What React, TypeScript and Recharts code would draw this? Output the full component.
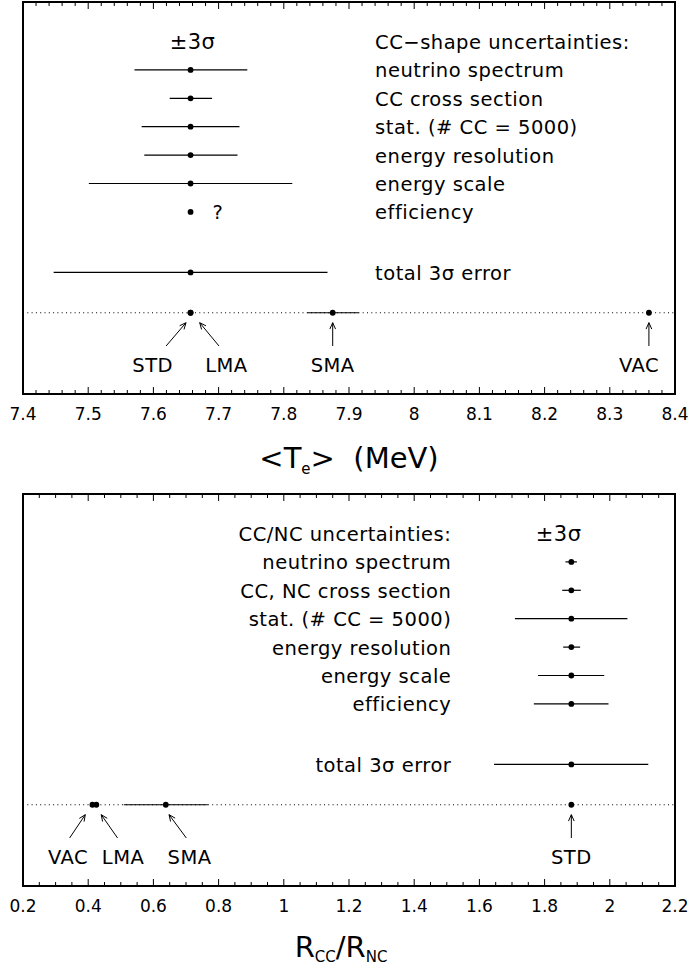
import React from "react";
import { ScatterChart, Scatter, XAxis, YAxis, ErrorBar, ReferenceLine, Label } from "recharts";

const FONT = "'DejaVu Sans', sans-serif";

// upper panel: <T_e> (MeV)
const TOP_ROWS = ["neutrino spectrum", "CC cross section", "stat. (# CC = 5000)", "energy resolution", "energy scale", "efficiency"];
const TOP_MEAN = 7.657;
const TOP_LOW = [7.571, 7.625, 7.582, 7.586, 7.501, 7.657];
const TOP_HIGH = [7.744, 7.690, 7.732, 7.729, 7.813, 7.657];
const TOP_TOTAL = [7.447, 7.867];
const TOP_MODELS = ["STD", "LMA", "SMA", "VAC"];
const TOP_MODEL_X = [7.657, 7.657, 7.875, 8.360];
const TOP_MODEL_LOW = [7.657, 7.657, 7.836, 8.360];
const TOP_MODEL_HIGH = [7.657, 7.657, 7.915, 8.360];
const TOP_MAJORS = [7.4, 7.5, 7.6, 7.7, 7.8, 7.9, 8, 8.1, 8.2, 8.3, 8.4];

// lower panel: R_CC / R_NC
const BOT_ROWS = ["neutrino spectrum", "CC, NC cross section", "stat. (# CC = 5000)", "energy resolution", "energy scale", "efficiency"];
const BOT_MEAN = 1.882;
const BOT_LOW = [1.864, 1.854, 1.709, 1.857, 1.780, 1.767];
const BOT_HIGH = [1.899, 1.911, 2.054, 1.909, 1.983, 1.996];
const BOT_TOTAL = [1.645, 2.118];
const BOT_MODELS = ["VAC", "LMA", "SMA", "STD"];
const BOT_MODEL_X = [0.413, 0.425, 0.638, 1.882];
const BOT_MODEL_LOW = [0.413, 0.425, 0.509, 1.882];
const BOT_MODEL_HIGH = [0.413, 0.425, 0.767, 1.882];
const BOT_MAJORS = [0.2, 0.4, 0.6, 0.8, 1, 1.2, 1.4, 1.6, 1.8, 2, 2.2];

// where the model labels / arrows sit (x in data units)
const TOP_ANNOT = [
  { labelX: 7.599, from: 7.6195, to: 7.650 },
  { labelX: 7.712, from: 7.7006, to: 7.671 },
  { labelX: 7.875, from: 7.875, to: 7.875 },
  { labelX: 8.345, from: 8.360, to: 8.360 },
];
const BOT_ANNOT = [
  { labelX: 0.338, from: 0.343, to: 0.391 },
  { labelX: 0.507, from: 0.490, to: 0.440 },
  { labelX: 0.711, from: 0.701, to: 0.648 },
  { labelX: 1.882, from: 1.882, to: 1.882 },
];

// row layout (y axis is a hidden row index)
const Y_DOMAIN = [-1.39, 12.41];
const TOTAL_ROW = 8.13;
const MODEL_ROW = 9.55;
const ARROW_TIP = 9.9;
const ARROW_TAIL = 10.72;
const LABEL_ROW = 11.36;
const MAJOR_PX = 7; // tick lengths
const MINOR_PX = 4;

const round = (v: number) => Number(v.toFixed(3));

function allTicks(lo: number, hi: number, step: number) {
  const out: number[] = [];
  const n = Math.round((hi - lo) / step);
  for (let i = 0; i <= n; i++) out.push(round(lo + i * step));
  return out;
}

function buildPoints(mean: number, low: number[], high: number[], total: number[], mx: number[], mlo: number[], mhi: number[]) {
  const pts = low.map((l, i) => ({ x: mean, y: i + 1, err: [mean - l, high[i] - mean] }));
  pts.push({ x: mean, y: TOTAL_ROW, err: [mean - total[0], total[1] - mean] });
  mx.forEach((v, i) => pts.push({ x: v, y: MODEL_ROW, err: [v - mlo[i], mhi[i] - v] }));
  return pts;
}

const dot = (p: any) => <circle cx={p.cx} cy={p.cy} r={2.9} fill="#000" />;

const textShape = (p: any) => {
  const d = p.payload;
  return (
    <text x={p.cx} y={p.cy} dy="0.38em" textAnchor={d.anchor} fontSize={d.size || 19.5}
      fontFamily={FONT} letterSpacing={0.5} fill="#000">{d.text}</text>
  );
};

const arrowShape = (p: any) => {
  const { x1, y1, x2, y2 } = p;
  const ang = Math.atan2(y2 - y1, x2 - x1);
  const L = 7;
  const s = 0.42;
  const ax = x2 - L * Math.cos(ang - s), ay = y2 - L * Math.sin(ang - s);
  const bx = x2 - L * Math.cos(ang + s), by = y2 - L * Math.sin(ang + s);
  return (
    <g>
      <line x1={x1} y1={y1} x2={x2} y2={y2} stroke="#000" strokeWidth={1} />
      <polyline points={`${ax},${ay} ${x2},${y2} ${bx},${by}`} fill="none" stroke="#000" strokeWidth={1} />
    </g>
  );
};

// horizontal frame edge with its inward tick marks; tick x follows the edge's own scale ends
function edgeShape(ticks: number[], isMajor: (v: number) => boolean, domain: number[], dir: number) {
  return (p: any) => {
    const { x1, y1, x2, y2 } = p;
    const d = ticks
      .map((v) => {
        const x = x1 + ((v - domain[0]) / (domain[1] - domain[0])) * (x2 - x1);
        const len = isMajor(v) ? MAJOR_PX : MINOR_PX;
        return `M${x.toFixed(2)},${y1}V${y1 + dir * len}`;
      })
      .join("");
    return (
      <g>
        <line x1={x1} y1={y1} x2={x2} y2={y2} stroke="#000" strokeWidth={2} strokeLinecap="square" />
        <path d={d} stroke="#000" strokeWidth={1} fill="none" />
      </g>
    );
  };
}

function makeTickLabel(majors: number[]) {
  return (p: any) => {
    const v = round(p.payload.value);
    if (!majors.some((m) => Math.abs(m - v) < 1e-6)) return <g />;
    return (
      <text x={p.x} y={p.y + 26} textAnchor="middle" fontSize={17} fontFamily={FONT} fill="#000">{String(v)}</text>
    );
  };
}

function Panel(props: any) {
  const { height, axisH, domain, majors, step, points, texts, annot, title } = props;
  const ticks = allTicks(domain[0], domain[1], step);
  const ref = { xAxisId: "b", yAxisId: "l", ifOverflow: "visible" as const };
  const frame = { ...ref, stroke: "#000", strokeWidth: 2, strokeLinecap: "square" as const };
  const isMajor = (v: number) => majors.some((m: number) => Math.abs(m - v) < 1e-6);
  return (
    <ScatterChart width={688} height={height} margin={{ top: 2, right: 13, bottom: 0, left: 23 }}>
      <XAxis xAxisId="b" type="number" dataKey="x" domain={domain} allowDataOverflow ticks={ticks} interval={0}
        tickLine={false} tickSize={0} tickMargin={0} height={axisH} axisLine={false} tick={makeTickLabel(majors)}>
        <Label content={title} />
      </XAxis>
      <YAxis yAxisId="l" type="number" dataKey="y" domain={Y_DOMAIN} reversed allowDataOverflow hide />
      <ReferenceLine {...ref} y={MODEL_ROW} stroke="#000" strokeWidth={1} strokeDasharray="1 3.3" />
      <Scatter xAxisId="b" yAxisId="l" data={points} shape={dot} isAnimationActive={false}>
        <ErrorBar dataKey="err" direction="x" width={0} stroke="#000" strokeWidth={1.2} isAnimationActive={false} />
      </Scatter>
      <Scatter xAxisId="b" yAxisId="l" data={texts} shape={textShape} isAnimationActive={false} />
      {annot.map((a: any, i: number) => (
        <ReferenceLine key={`a${i}`} {...ref}
          segment={[{ x: a.from, y: ARROW_TAIL }, { x: a.to, y: ARROW_TIP }]} shape={arrowShape} />
      ))}
      <ReferenceLine {...ref} y={Y_DOMAIN[0]} shape={edgeShape(ticks, isMajor, domain, 1)} />
      <ReferenceLine {...ref} y={Y_DOMAIN[1]} shape={edgeShape(ticks, isMajor, domain, -1)} />
      <ReferenceLine {...frame} x={domain[0]} />
      <ReferenceLine {...frame} x={domain[1]} />
    </ScatterChart>
  );
}

const topTitle = (p: any) => {
  const vb = p.viewBox;
  return (
    <text x={vb.x + vb.width / 2} y={vb.y + 74} textAnchor="middle" fontSize={29} fontFamily={FONT} fill="#000">
      {"<T"}<tspan fontSize={15} dy={6}>e</tspan><tspan dy={-6}>{">\u00a0\u00a0(MeV)"}</tspan>
    </text>
  );
};

const botTitle = (p: any) => {
  const vb = p.viewBox;
  return (
    <text x={vb.x + vb.width / 2 - 8} y={vb.y + 71} textAnchor="middle" fontSize={29} fontFamily={FONT} fill="#000">
      {"R"}<tspan fontSize={15} dy={5}>CC</tspan><tspan dy={-5}>{"/R"}</tspan><tspan fontSize={15} dy={5}>NC</tspan>
    </text>
  );
};

export default function App() {
  const topPoints = buildPoints(TOP_MEAN, TOP_LOW, TOP_HIGH, TOP_TOTAL, TOP_MODEL_X, TOP_MODEL_LOW, TOP_MODEL_HIGH);
  const botPoints = buildPoints(BOT_MEAN, BOT_LOW, BOT_HIGH, BOT_TOTAL, BOT_MODEL_X, BOT_MODEL_LOW, BOT_MODEL_HIGH);

  const topTexts: any[] = [
    { x: 7.66, y: 0, text: "±3σ", anchor: "middle", size: 21 },
    { x: 7.94, y: 0, text: "CC\u2212shape uncertainties:", anchor: "start" },
    ...TOP_ROWS.map((t, i) => ({ x: 7.94, y: i + 1, text: t, anchor: "start" })),
    { x: 7.94, y: TOTAL_ROW, text: "total 3σ error", anchor: "start" },
    { x: 7.699, y: 6, text: "?", anchor: "middle" },
    ...TOP_MODELS.map((t, i) => ({ x: TOP_ANNOT[i].labelX, y: LABEL_ROW, text: t, anchor: "middle" })),
  ];
  const botTexts: any[] = [
    { x: 1.843, y: 0, text: "±3σ", anchor: "middle", size: 21 },
    { x: 1.514, y: 0, text: "CC/NC uncertainties:", anchor: "end" },
    ...BOT_ROWS.map((t, i) => ({ x: 1.514, y: i + 1, text: t, anchor: "end" })),
    { x: 1.514, y: TOTAL_ROW, text: "total 3σ error", anchor: "end" },
    ...BOT_MODELS.map((t, i) => ({ x: BOT_ANNOT[i].labelX, y: LABEL_ROW, text: t, anchor: "middle" })),
  ];

  return (
    <div style={{ position: "absolute", left: 0, top: 0, width: 688, height: 972, background: "#fff" }}>
      <Panel height={492} axisH={98} domain={[7.4, 8.4]} majors={TOP_MAJORS} step={0.02}
        points={topPoints} texts={topTexts} annot={TOP_ANNOT} title={topTitle} />
      <Panel height={480} axisH={86} domain={[0.2, 2.2]} majors={BOT_MAJORS} step={0.05}
        points={botPoints} texts={botTexts} annot={BOT_ANNOT} title={botTitle} />
    </div>
  );
}
